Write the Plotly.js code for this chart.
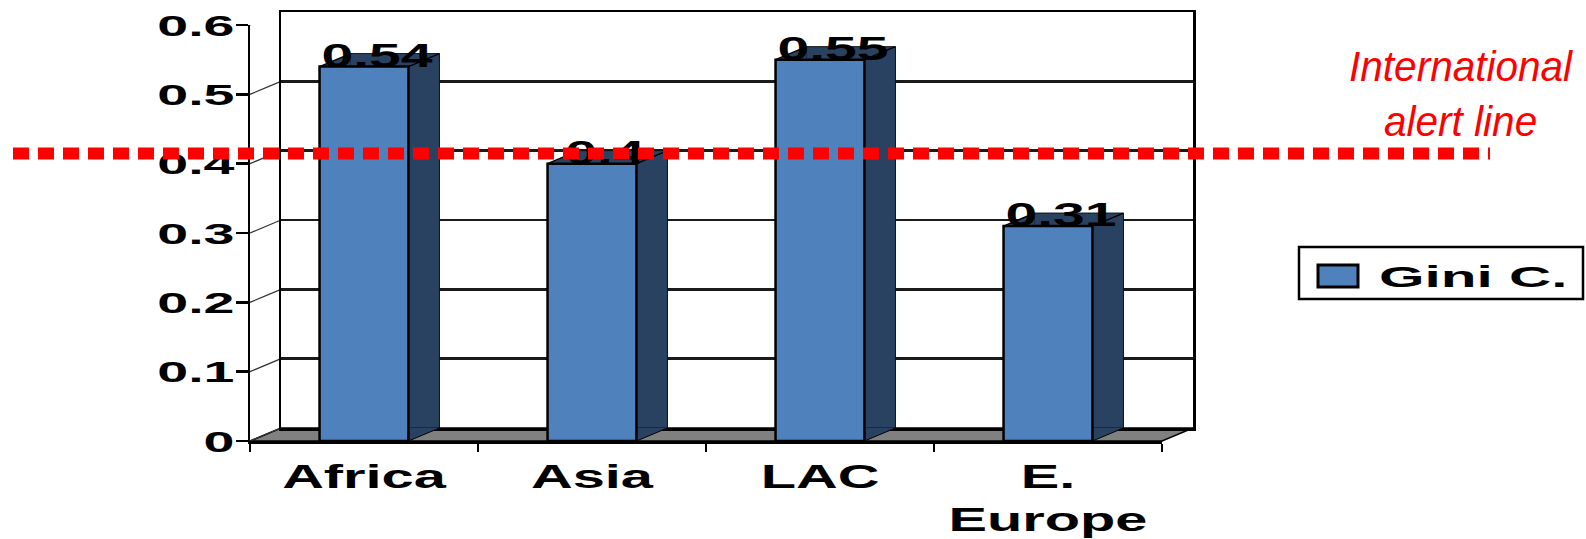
<!DOCTYPE html>
<html><head><meta charset="utf-8">
<script src="https://cdn.plot.ly/plotly-3.0.1.min.js"></script>
<style>html,body{margin:0;padding:0;background:#fff;}</style>
</head><body><div id="chart" style="width:1586px;height:539px;"></div>
<script>
// ---- data ----
const categories = ['Africa', 'Asia', 'LAC', 'E.<br>Europe'];
const giniValues = [0.54, 0.40, 0.55, 0.31];
const valueLabels = ['0.54', '0.4', '0.55', '0.31'];
const yTickValues = [0, 0.1, 0.2, 0.3, 0.4, 0.5, 0.6];
const yTickLabels = ['0', '0.1', '0.2', '0.3', '0.4', '0.5', '0.6'];
const seriesName = 'Gini C.';
const alertLevel = 0.396;
const alertText = 'International<br>alert line';

// ---- layout constants ----
const FIG_W = 1586, FIG_H = 539;
const M = {l: 250, r: 393, t: 12, b: 98};
const PW = FIG_W - M.l - M.r, PH = FIG_H - M.t - M.b;
const DX = 31, DY = 13;          // 3D depth offset in pixels
const BAR_W = 0.39;
const LABEL_DX = 0.057;
const FRONT = '#4F81BD', SIDE = '#2A4262';
const FONT = 'Liberation Sans, Arial, sans-serif';
const idx = categories.map((_, i) => i);
const px = p => (p - M.l) / PW;            // pixel x -> paper
const py = p => (FIG_H - M.b - p) / PH;    // pixel y -> paper

const traces = [
  {type: 'bar', x: idx, y: giniValues, width: BAR_W, xaxis: 'x', yaxis: 'y',
   marker: {color: SIDE, line: {color: '#111', width: 1}}, hoverinfo: 'skip', showlegend: false},
  {type: 'bar', x: idx, y: giniValues, width: BAR_W, xaxis: 'x2', yaxis: 'y2', name: seriesName,
   marker: {color: FRONT, line: {color: '#000', width: 2.5}}, showlegend: false},
  {type: 'scatter', mode: 'text', x: idx.map(i => i + LABEL_DX), y: giniValues, text: valueLabels,
   textposition: 'top center', textfont: {family: FONT, size: 33, color: '#000', weight: 'bold'},
   cliponaxis: false, xaxis: 'x2', yaxis: 'y2', showlegend: false, hoverinfo: 'skip'}
];

const shapes = [];
// floor
shapes.push({type: 'path', xref: 'paper', yref: 'paper', layer: 'below',
  path: `M0,0 L${(PW - DX) / PW},0 L1,${DY / PH} L${DX / PW},${DY / PH} Z`,
  fillcolor: '#808080', line: {color: '#000', width: 1.5}});
// left wall lines
yTickValues.forEach(v => shapes.push({type: 'path', xref: 'paper', yref: 'y2',
  xsizemode: 'pixel', ysizemode: 'pixel', xanchor: 0, yanchor: v,
  path: `M0,0 L${DX},${DY}`, line: {color: '#333', width: 1.2}, layer: 'below'}));
// bar 3D pieces
giniValues.forEach((v, i) => {
  const L = i - BAR_W / 2, R = i + BAR_W / 2;
  const base = {type: 'path', xref: 'x2', yref: 'y2', xsizemode: 'pixel', ysizemode: 'pixel', layer: 'below'};
  shapes.push(Object.assign({}, base, {xanchor: L, yanchor: v, path: `M0,0 L${DX},${DY} L${DX},0 Z`, fillcolor: SIDE, line: {width: 0}}));
  shapes.push(Object.assign({}, base, {xanchor: R, yanchor: 0, path: `M0,0 L0,${DY} L${DX},${DY} Z`, fillcolor: SIDE, line: {width: 0}}));
  shapes.push(Object.assign({}, base, {xanchor: L, yanchor: v, path: `M0,0 L${DX},${DY}`, line: {color: '#000', width: 1.5}}));
  shapes.push(Object.assign({}, base, {xanchor: R, yanchor: v, path: `M0,0 L${DX},${DY}`, line: {color: '#000', width: 1.5}}));
  shapes.push(Object.assign({}, base, {xanchor: R, yanchor: 0, path: `M0,0 L${DX},${DY}`, line: {color: '#000', width: 1}}));
});
// legend box
shapes.push({type: 'rect', xref: 'paper', yref: 'paper', x0: px(1299), x1: px(1583), y0: py(299), y1: py(247),
  fillcolor: '#fff', line: {color: '#000', width: 2.5}, layer: 'above'});
shapes.push({type: 'rect', xref: 'paper', yref: 'paper', x0: px(1318), x1: px(1358), y0: py(287), y1: py(265),
  fillcolor: FRONT, line: {color: '#000', width: 3}, layer: 'above'});
// alert line
shapes.push({type: 'line', xref: 'paper', yref: 'y', x0: px(13), x1: px(1490), y0: alertLevel, y1: alertLevel,
  line: {color: '#FF0000', width: 12, dash: '16px,9px'}, layer: 'above'});

const annotations = [
  {xref: 'paper', yref: 'paper', x: px(1461), y: py(94), text: alertText, showarrow: false,
   xanchor: 'center', yanchor: 'middle', font: {family: FONT, size: 42, color: '#FF0000', style: 'italic'}},
  {xref: 'paper', yref: 'paper', x: px(1473), y: py(276), text: seriesName, showarrow: false,
   xanchor: 'center', yanchor: 'middle', font: {family: FONT, size: 30, color: '#000', weight: 'bold'}}
];

const layout = {
  width: FIG_W, height: FIG_H, margin: M, paper_bgcolor: '#fff', plot_bgcolor: 'rgba(0,0,0,0)',
  showlegend: false, bargap: 0,
  xaxis: {domain: [DX / PW, 1], range: [-0.5, 3.5], anchor: 'y', showline: true, mirror: true,
    linecolor: '#000', linewidth: 2.5, showgrid: false, zeroline: false, showticklabels: false, ticks: ''},
  yaxis: {domain: [DY / PH, 1], range: [0, 0.6], anchor: 'x', showline: true, mirror: true,
    linecolor: '#000', linewidth: 2.5, showgrid: true, gridcolor: '#1a1a1a', gridwidth: 2.5,
    tickvals: yTickValues, zeroline: false, showticklabels: false, ticks: ''},
  xaxis2: {domain: [0, (PW - DX) / PW], range: [-0.5, 3.5], anchor: 'y2', showline: true,
    linecolor: '#000', linewidth: 2.5, showgrid: false, zeroline: false,
    tickvals: idx, ticktext: categories, ticks: '', ticklabelstandoff: 5,
    tickfont: {family: FONT, size: 33, color: '#000', weight: 'bold'},
    minor: {tickvals: [-0.5, 0.5, 1.5, 2.5, 3.5], ticks: 'outside', ticklen: 8, tickwidth: 2.5, tickcolor: '#000', showgrid: false}},
  yaxis2: {domain: [0, (PH - DY) / PH], range: [0, 0.6], anchor: 'x2', showline: true,
    linecolor: '#000', linewidth: 2.5, showgrid: false, zeroline: false,
    tickvals: yTickValues, ticktext: yTickLabels, ticks: 'outside', ticklen: 12, tickwidth: 2.5, tickcolor: '#000',
    ticklabelstandoff: -5, tickfont: {family: FONT, size: 30, color: '#000', weight: 'bold'}},
  shapes: shapes, annotations: annotations
};

function stretch(nodes, k) {
  nodes.forEach(t => {
    const spans = t.querySelectorAll('tspan.line');
    const targets = spans.length ? Array.from(spans) : [t];
    targets.forEach(el => {
      const len = el.getComputedTextLength();
      if (len > 0) {
        el.setAttribute('textLength', (len * k).toFixed(1));
        el.setAttribute('lengthAdjust', 'spacingAndGlyphs');
      }
    });
  });
}

Plotly.newPlot('chart', traces, layout, {staticPlot: true}).then(gd => {
  stretch(gd.querySelectorAll('.y2tick text'), 1.85);
  stretch(gd.querySelectorAll('.x2tick text'), 1.75);
  const labels = gd.querySelectorAll('.textpoint text');
  stretch(labels, 1.73);
  labels.forEach(t => t.setAttribute('dy', (33 * 0.25).toFixed(1)));
  stretch(gd.querySelectorAll('.annotation[data-index="0"] text'), 0.965);
  stretch(gd.querySelectorAll('.annotation[data-index="1"] text'), 1.95);
});
</script>
</body></html>
